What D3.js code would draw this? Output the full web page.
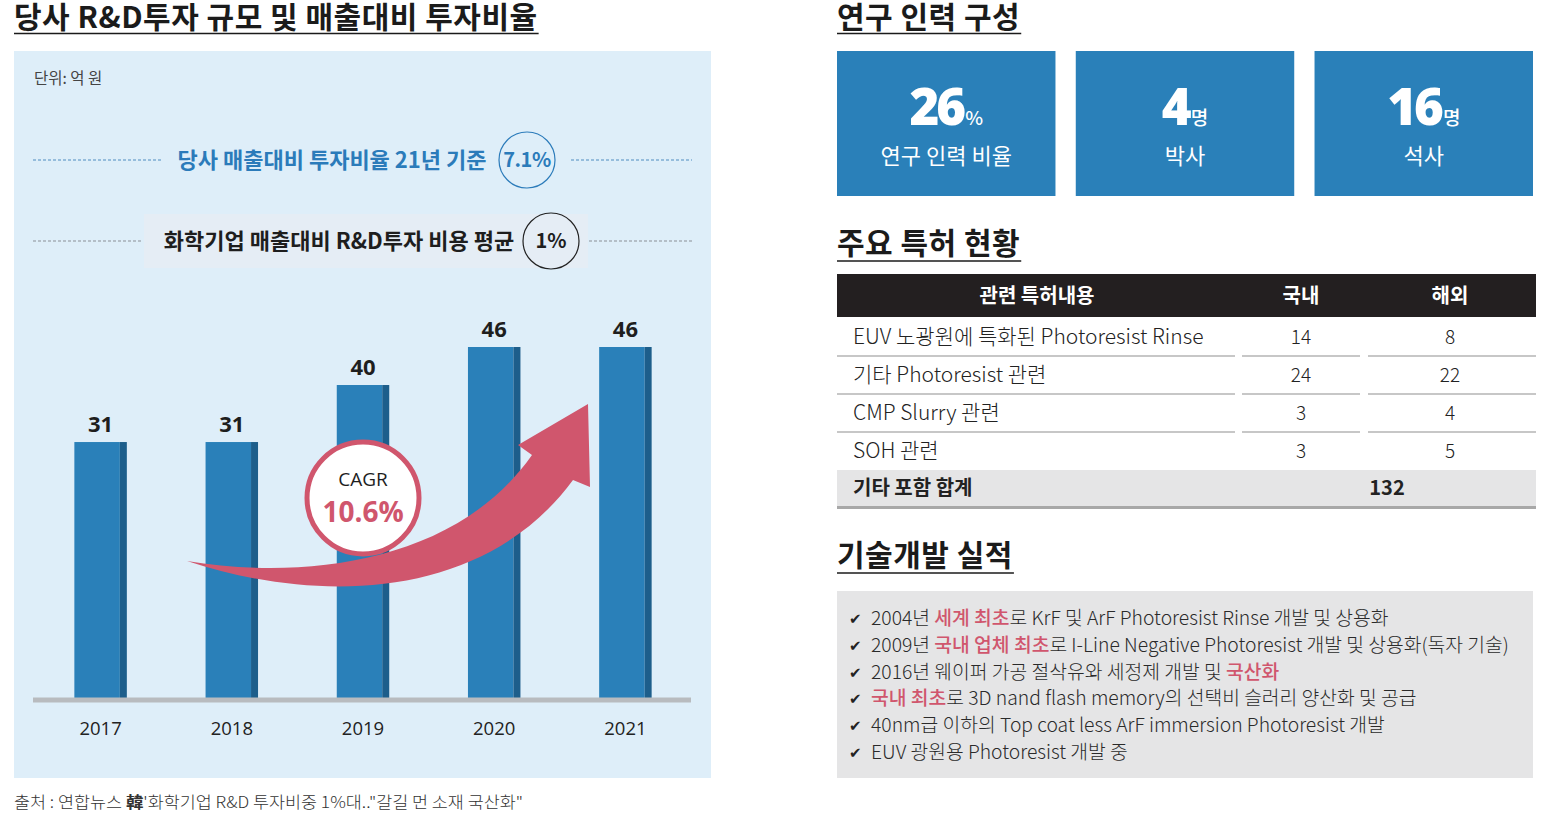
<!DOCTYPE html>
<html><head><meta charset="utf-8">
<script src="https://cdn.jsdelivr.net/npm/d3@7/dist/d3.min.js"></script>
<style>body{margin:0;background:#fff}svg{display:block}</style>
</head><body>
<script>
// ---------- data ----------
const years = ["2017","2018","2019","2020","2021"];
const rndValues = [31,31,40,46,46];
const unitLabel = "단위: 억 원";
const ownRatioText = "당사 매출대비 투자비율 21년 기준";
const ownRatio = "7.1%";
const industryText = "화학기업 매출대비 R&D투자 비용 평균";
const industryRatio = "1%";
const cagrLabel = "CAGR";
const cagrValue = "10.6%";
const sourceText = ["출처 : 연합뉴스 ", "韓", "'화학기업 R&D 투자비중 1%대..\"갈길 먼 소재 국산화\""];

const staffValues = ["26","4","16"];
const staffUnits = ["%","명","명"];
const staffLabels = ["연구 인력 비율","박사","석사"];

const patentHeaders = ["관련 특허내용","국내","해외"];
const patentTopics = ["EUV 노광원에 특화된 Photoresist Rinse","기타 Photoresist 관련","CMP Slurry 관련","SOH 관련"];
const patentDomestic = [14,24,3,3];
const patentOverseas = [8,22,4,5];
const patentTotalLabel = "기타 포함 합계";
const patentTotal = 132;

// each achievement: list of [text, highlighted]
const achievements = [
  [["2004년 ",0],["세계 최초",1],["로 KrF 및 ArF Photoresist Rinse 개발 및 상용화",0]],
  [["2009년 ",0],["국내 업체 최초",1],["로 I-Line Negative Photoresist 개발 및 상용화(독자 기술)",0]],
  [["2016년 웨이퍼 가공 절삭유와 세정제 개발 및 ",0],["국산화",1]],
  [["국내 최초",1],["로 3D nand flash memory의 선택비 슬러리 양산화 및 공급",0]],
  [["40nm급 이하의 Top coat less ArF immersion Photoresist 개발",0]],
  [["EUV 광원용 Photoresist 개발 중",0]]
];
const titles = ["당사 R&D투자 규모 및 매출대비 투자비율","연구 인력 구성","주요 특허 현황","기술개발 실적"];

// ---------- styles ----------
const KR = "'Noto Sans CJK KR','Noto Sans',sans-serif";
const NUM = "'Open Sans','Noto Sans CJK KR',sans-serif";
const BLUE = "#2a80b9", BLUE_D = "#1d5e8b", RED = "#d0566d", PANEL = "#deeef9";

const svg = d3.select("body").append("svg").attr("width",1565).attr("height",817);

function title(x, y, txt, uy){
  const t = svg.append("text").attr("x",x).attr("y",y).text(txt)
    .attr("font-family",KR).attr("font-weight",700).attr("font-size",30).attr("letter-spacing",0.5).attr("fill","#1b1b1b");
  const w = t.node().getComputedTextLength();
  svg.append("line").attr("x1",x).attr("x2",x+w+1).attr("y1",uy).attr("y2",uy)
    .attr("stroke","#1b1b1b").attr("stroke-width",1.5);
}

// ---------- left panel ----------
title(14, 28, titles[0], 33.5);
svg.append("rect").attr("x",14).attr("y",51).attr("width",697).attr("height",727).attr("fill",PANEL);
svg.append("text").attr("x",34).attr("y",84).text(unitLabel)
  .attr("font-family",KR).attr("font-size",15.5).attr("fill","#444");

// row 1
[[33,162],[571,692]].forEach(([a,b])=>svg.append("line").attr("x1",a).attr("x2",b).attr("y1",160).attr("y2",160)
  .attr("stroke","#4f8cc0").attr("stroke-dasharray","3,2").attr("stroke-width",1));
svg.append("text").attr("x",332).attr("y",168).attr("text-anchor","middle").text(ownRatioText)
  .attr("font-family",KR).attr("font-weight",700).attr("font-size",22).attr("fill","#2b7bba");
svg.append("circle").attr("cx",527).attr("cy",160).attr("r",28).attr("fill","none").attr("stroke","#2b7bba").attr("stroke-width",1.2);
svg.append("text").attr("x",527).attr("y",167).attr("text-anchor","middle").text(ownRatio)
  .attr("font-family",KR).attr("font-weight",700).attr("font-size",20).attr("letter-spacing",-0.5).attr("fill","#2b7bba");

// row 2
svg.append("rect").attr("x",144).attr("y",214).attr("width",444).attr("height",54).attr("fill","#e5edf5");
[[33,143],[589,692]].forEach(([a,b])=>svg.append("line").attr("x1",a).attr("x2",b).attr("y1",241).attr("y2",241)
  .attr("stroke","#8a8f96").attr("stroke-dasharray","3,2").attr("stroke-width",1));
svg.append("text").attr("x",339).attr("y",249).attr("text-anchor","middle").text(industryText)
  .attr("font-family",KR).attr("font-weight",700).attr("font-size",22).attr("fill","#1e1e1e");
svg.append("circle").attr("cx",551).attr("cy",241).attr("r",28).attr("fill","none").attr("stroke","#222").attr("stroke-width",1.2);
svg.append("text").attr("x",551).attr("y",248).attr("text-anchor","middle").text(industryRatio)
  .attr("font-family",KR).attr("font-weight",700).attr("font-size",20).attr("fill","#1e1e1e");

// bars
const x = d3.scaleBand().domain(years).range([35,691]).paddingInner(0.6).paddingOuter(0.3);
const y = d3.scaleLinear().domain([-9.4,46]).range([698,347]);
const side = 7;
const data = years.map((yr,i)=>({yr, v:rndValues[i]}));
const g = svg.append("g");
g.selectAll("rect.main").data(data).join("rect").attr("class","main")
  .attr("x",d=>x(d.yr)).attr("y",d=>y(d.v)).attr("width",x.bandwidth()-side).attr("height",d=>y.range()[0]-y(d.v)).attr("fill",BLUE);
g.selectAll("rect.side").data(data).join("rect").attr("class","side")
  .attr("x",d=>x(d.yr)+x.bandwidth()-side).attr("y",d=>y(d.v)).attr("width",side).attr("height",d=>y.range()[0]-y(d.v)).attr("fill",BLUE_D);
g.selectAll("text.val").data(data).join("text").attr("class","val")
  .attr("x",d=>x(d.yr)+x.bandwidth()/2).attr("y",d=>y(d.v)-10).attr("text-anchor","middle").text(d=>d.v)
  .attr("font-family",NUM).attr("font-weight",700).attr("font-size",22).attr("fill","#1e1e1e");

const axis = svg.append("g").attr("transform","translate(0,700)")
  .call(d3.axisBottom(x).tickSize(0).tickSizeOuter(0).tickPadding(18));
axis.select(".domain").attr("stroke","#b8bbbf").attr("stroke-width",5).attr("d","M33,0H691");
axis.selectAll("text").attr("font-family",NUM).attr("font-size",18.5).attr("fill","#222").attr("dy","0.9em");

// arrow
const xc = yr => x(yr)+x.bandwidth()/2;
const arrow = d3.path();
arrow.moveTo(187,561);
arrow.bezierCurveTo(300,580,455,565,532,455);
arrow.lineTo(518,445); arrow.lineTo(588,404); arrow.lineTo(590,487); arrow.lineTo(573,480);
arrow.bezierCurveTo(485,600,320,605,187,561);
arrow.closePath();
svg.append("path").attr("d",arrow.toString()).attr("fill",RED);

// CAGR bubble
svg.append("circle").attr("cx",xc("2019")).attr("cy",498).attr("r",56).attr("fill","#fff").attr("stroke",RED).attr("stroke-width",5);
svg.append("text").attr("x",xc("2019")).attr("y",486).attr("text-anchor","middle").text(cagrLabel)
  .attr("font-family",NUM).attr("font-size",19).attr("fill","#1e1e1e");
svg.append("text").attr("x",xc("2019")).attr("y",522).attr("text-anchor","middle").text(cagrValue)
  .attr("font-family",NUM).attr("font-weight",700).attr("font-size",28).attr("fill",RED);

// source
const src = svg.append("text").attr("x",14).attr("y",808).attr("font-family",KR).attr("font-size",16).attr("fill","#333");
sourceText.forEach((s,i)=>src.append("tspan").text(s).attr("font-weight",i===1?700:300));
src.attr("textLength", 509).attr("lengthAdjust","spacingAndGlyphs");

// ---------- right: staff ----------
title(837, 28, titles[1], 33.5);
const boxX = d3.scaleBand().domain(staffLabels).range([837,1533]).paddingInner(0.085);
staffLabels.forEach((lab,i)=>{
  const bx = boxX(lab), bw = boxX.bandwidth();
  svg.append("rect").attr("x",bx).attr("y",51).attr("width",bw).attr("height",145).attr("fill",BLUE);
  const t = svg.append("text").attr("x",bx+bw/2).attr("y",125).attr("text-anchor","middle").attr("fill","#fff");
  t.append("tspan").text(staffValues[i]).attr("font-family",NUM).attr("font-weight",800).attr("font-size",51).attr("letter-spacing",-3);
  t.append("tspan").text(staffUnits[i]).attr("font-family",KR).attr("font-weight",500).attr("font-size",19).attr("dx",2);
  svg.append("text").attr("x",bx+bw/2).attr("y",164).attr("text-anchor","middle").text(lab)
    .attr("font-family",KR).attr("font-size",22).attr("fill","#fff");
});

// ---------- right: patents ----------
title(837, 254, titles[2], 261);
const colC = [1037,1301,1450];
svg.append("rect").attr("x",837).attr("y",274).attr("width",699).attr("height",43).attr("fill","#231f20");
patentHeaders.forEach((h,i)=>svg.append("text").attr("x",colC[i]).attr("y",303).attr("text-anchor","middle").text(h)
  .attr("font-family",KR).attr("font-weight",700).attr("font-size",20).attr("fill","#fff"));
const rowY = d3.scaleBand().domain(patentTopics).range([318,470]);
const segs = [[837,1235],[1242,1360],[1368,1536]];
patentTopics.forEach((p,i)=>{
  const cy = rowY(p)+rowY.bandwidth()/2;
  svg.append("text").attr("x",853).attr("y",cy+7).text(p).attr("font-family",KR).attr("font-weight",300).attr("font-size",21).attr("fill","#222");
  svg.append("text").attr("x",colC[1]).attr("y",cy+7).attr("text-anchor","middle").text(patentDomestic[i]).attr("font-family",KR).attr("font-weight",300).attr("font-size",19).attr("fill","#222");
  svg.append("text").attr("x",colC[2]).attr("y",cy+7).attr("text-anchor","middle").text(patentOverseas[i]).attr("font-family",KR).attr("font-weight",300).attr("font-size",19).attr("fill","#222");
  if(i<patentTopics.length-1) segs.forEach(([a,b])=>svg.append("line").attr("x1",a).attr("x2",b)
    .attr("y1",rowY(p)+rowY.bandwidth()).attr("y2",rowY(p)+rowY.bandwidth()).attr("stroke","#b5b5b5").attr("stroke-width",1.3));
});
svg.append("rect").attr("x",837).attr("y",470).attr("width",699).attr("height",36).attr("fill","#e5e5e6");
svg.append("rect").attr("x",837).attr("y",506).attr("width",699).attr("height",3).attr("fill","#a8a8a8");
svg.append("text").attr("x",853).attr("y",495).text(patentTotalLabel).attr("font-family",KR).attr("font-weight",700).attr("font-size",20).attr("fill","#222");
svg.append("text").attr("x",1387).attr("y",495).attr("text-anchor","middle").text(patentTotal).attr("font-family",KR).attr("font-weight",700).attr("font-size",20).attr("fill","#222");

// ---------- right: achievements ----------
title(837, 566, titles[3], 573);
svg.append("rect").attr("x",837).attr("y",591).attr("width",696).attr("height",187).attr("fill","#e5e5e6");
const itemY = d3.scaleLinear().domain([0,achievements.length-1]).range([618,752]);
achievements.forEach((segsA,i)=>{
  const cy = itemY(i);
  svg.append("text").attr("x",849).attr("y",cy+6).text("✔").attr("font-family","'DejaVu Sans'").attr("font-size",15).attr("fill","#222");
  const t = svg.append("text").attr("x",871).attr("y",cy+7).attr("font-family",KR).attr("font-weight",300).attr("font-size",19.3).attr("fill","#2a2a2a");
  segsA.forEach(([s,h])=>t.append("tspan").text(s).attr("fill",h?RED:"#2a2a2a").attr("font-weight",h?500:300));
});
</script>
</body></html>
